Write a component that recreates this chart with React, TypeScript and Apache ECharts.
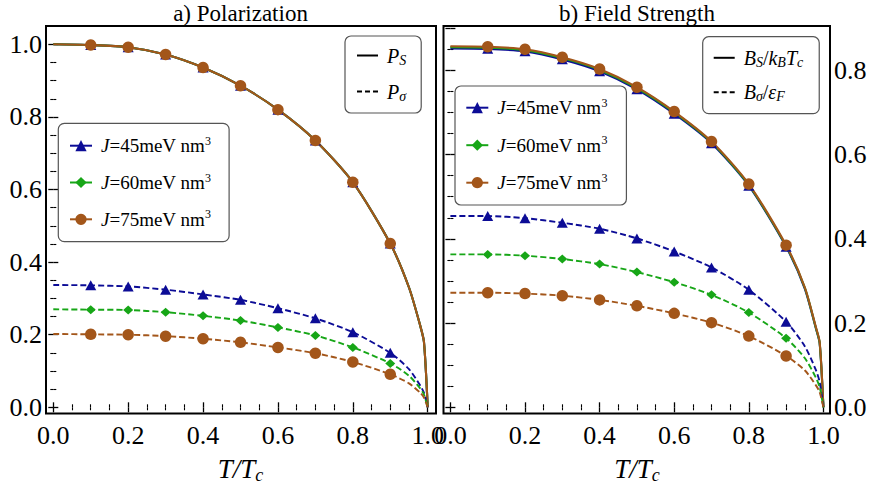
import React, { useEffect, useRef } from 'react';
import * as echarts from 'echarts';

// Reduced temperature T/Tc at which the curves were read
const T_GRID = [0, 0.1, 0.2, 0.3, 0.4, 0.5, 0.6, 0.7, 0.8, 0.9, 0.95, 0.98, 0.99, 1.0];
// Temperatures that carry a marker
const MARKER_T = [0.1, 0.2, 0.3, 0.4, 0.5, 0.6, 0.7, 0.8, 0.9];

// a) Polarization
const P_S_45 = [1.0, 0.998, 0.992, 0.972, 0.936, 0.886, 0.82, 0.735, 0.62, 0.451, 0.33, 0.225, 0.18, 0];
const P_S_60 = [1.0, 0.998, 0.992, 0.972, 0.936, 0.886, 0.82, 0.735, 0.62, 0.451, 0.33, 0.225, 0.18, 0];
const P_S_75 = [1.0, 0.998, 0.992, 0.972, 0.936, 0.886, 0.82, 0.735, 0.62, 0.451, 0.33, 0.225, 0.18, 0];
const P_SIG_45 = [0.337, 0.336, 0.333, 0.324, 0.311, 0.296, 0.273, 0.245, 0.207, 0.15, 0.105, 0.06, 0.04, 0];
const P_SIG_60 = [0.27, 0.269, 0.268, 0.262, 0.252, 0.239, 0.22, 0.198, 0.165, 0.121, 0.087, 0.052, 0.035, 0];
const P_SIG_75 = [0.202, 0.201, 0.2, 0.196, 0.189, 0.179, 0.165, 0.149, 0.125, 0.091, 0.066, 0.04, 0.027, 0];

// b) Field Strength
const B_S_45 = [0.852, 0.851, 0.845, 0.826, 0.798, 0.755, 0.697, 0.627, 0.526, 0.381, 0.282, 0.187, 0.152, 0];
const B_S_60 = [0.855, 0.854, 0.848, 0.829, 0.801, 0.758, 0.7, 0.629, 0.528, 0.383, 0.284, 0.188, 0.153, 0];
const B_S_75 = [0.857, 0.856, 0.85, 0.831, 0.803, 0.76, 0.702, 0.631, 0.53, 0.385, 0.285, 0.19, 0.155, 0];
const B_SIG_45 = [0.454, 0.454, 0.449, 0.438, 0.424, 0.401, 0.37, 0.332, 0.279, 0.203, 0.145, 0.088, 0.06, 0];
const B_SIG_60 = [0.363, 0.363, 0.36, 0.352, 0.34, 0.321, 0.297, 0.267, 0.225, 0.164, 0.117, 0.07, 0.048, 0];
const B_SIG_75 = [0.272, 0.272, 0.27, 0.265, 0.255, 0.241, 0.223, 0.201, 0.169, 0.122, 0.088, 0.052, 0.036, 0];

const PANEL_TITLES = ['a) Polarization', 'b) Field Strength'];
const J_NAMES = ['J45', 'J60', 'J75'];
const J_LABELS = ['45', '60', '75'];

const FONT = 'Liberation Serif';
const BLUE = '#0c0c96';
const GREEN = '#17a617';
const BROWN = '#a3561a';

const LEGEND_TEXT: Record<string, string> = {
  J45: `{i|J}{n|=${J_LABELS[0]}meV nm}{sup|3}`,
  J60: `{i|J}{n|=${J_LABELS[1]}meV nm}{sup|3}`,
  J75: `{i|J}{n|=${J_LABELS[2]}meV nm}{sup|3}`,
  PS: '{i|P}{sub|S}',
  Psig: '{i|P}{sub|σ}',
  BS: '{i|B}{sub|S}{n|/}{i|k}{sub|B}{i|T}{sub|c}',
  Bsig: '{i|B}{sub|σ}{n|/}{i|ε}{sub|F}',
};

function points(ys: number[]) {
  return T_GRID.map((t, i) =>
    MARKER_T.includes(t) ? [t, ys[i]] : { value: [t, ys[i]], symbol: 'none' }
  );
}

function curve(
  name: string,
  ys: number[],
  color: string,
  symbol: string,
  size: number | number[],
  dashed: boolean,
  grid: number
) {
  return {
    type: 'line',
    name,
    xAxisIndex: grid * 2,
    yAxisIndex: grid * 2,
    data: points(ys),
    smooth: 0.25,
    symbol,
    symbolSize: size,
    clip: false,
    lineStyle: { color, width: dashed ? 1.9 : 2.1, type: dashed ? [6, 3] : 'solid' },
    itemStyle: { color },
    emphasis: { disabled: true },
    silent: true,
  };
}

function dummy(name: string, dashed: boolean, grid: number) {
  return {
    type: 'line',
    name,
    xAxisIndex: grid * 2,
    yAxisIndex: grid * 2,
    data: [],
    symbol: 'circle',
    lineStyle: { color: '#000', width: 2, type: dashed ? [5, 3] : 'solid' },
    itemStyle: { color: 'rgba(0,0,0,0)' },
  };
}

const richText = (size: number) => ({
  i: { fontFamily: FONT, fontStyle: 'italic', fontSize: size, color: '#000', lineHeight: size + 3 },
  n: { fontFamily: FONT, fontSize: size, color: '#000', lineHeight: size + 3 },
  sup: { fontFamily: FONT, fontSize: Math.round(size * 0.62), color: '#000', verticalAlign: 'top', lineHeight: Math.round(size * 0.62) },
  sub: { fontFamily: FONT, fontStyle: 'italic', fontSize: Math.round(size * 0.68), color: '#000', verticalAlign: 'bottom', lineHeight: Math.round(size * 0.68) },
});

const tickRich = {
  t: { fontFamily: FONT, fontSize: 26, color: '#000' },
};

function xAxis(grid: number, position: string, offset: number, showLabel: boolean, name?: string) {
  return {
    type: 'value',
    gridIndex: grid,
    position,
    offset,
    min: 0,
    max: 1,
    interval: 0.2,
    axisLine: { show: false },
    axisTick: { show: true, inside: true, length: 5, lineStyle: { color: '#000', width: 1.3 } },
    minorTick: { show: true, splitNumber: 4, length: 3, lineStyle: { color: '#000', width: 1.1 } },
    splitLine: { show: false },
    minorSplitLine: { show: false },
    axisLabel: {
      show: showLabel,
      fontFamily: FONT,
      fontSize: 26,
      color: '#000',
      margin: 9,
      formatter: (v: number) => `{t|${v.toFixed(1)}}`,
      rich: tickRich,
    },
    name: name || '',
    nameLocation: 'middle',
    nameGap: 40,
    nameTextStyle: { fontFamily: FONT, fontSize: 27, color: '#000', rich: richText(27) },
  };
}

function yAxis(grid: number, position: string, offset: number, showLabel: boolean, max: number) {
  return {
    type: 'value',
    gridIndex: grid,
    position,
    offset,
    min: 0,
    max,
    interval: 0.2,
    axisLine: { show: false },
    axisTick: { show: true, inside: true, length: 5, lineStyle: { color: '#000', width: 1.3 } },
    minorTick: { show: true, splitNumber: 4, length: 3, lineStyle: { color: '#000', width: 1.1 } },
    splitLine: { show: false },
    minorSplitLine: { show: false },
    axisLabel: {
      show: showLabel,
      fontFamily: FONT,
      fontSize: 26,
      color: '#000',
      margin: 4,
      showMaxLabel: max === 1,
      formatter: (v: number) => `{t|${v.toFixed(1)}}`,
      rich: tickRich,
    },
  };
}

function legend(
  names: any[],
  left: number,
  top: number,
  itemWidth: number,
  itemGap: number,
  padding: number[],
  fontSize: number
) {
  return {
    show: true,
    orient: 'vertical',
    left,
    top,
    data: names,
    itemWidth,
    itemHeight: 14,
    itemGap,
    padding,
    selectedMode: false,
    backgroundColor: '#fff',
    borderColor: '#555',
    borderWidth: 1.2,
    borderRadius: 6,
    formatter: (name: string) => LEGEND_TEXT[name] || name,
    textStyle: {
      fontFamily: FONT,
      fontSize,
      color: '#000',
      lineHeight: fontSize + 3,
      padding: [0, 0, 0, 4],
      rich: richText(fontSize),
    },
    z: 20,
  };
}

export default function App() {
  const ref = useRef<HTMLDivElement>(null);
  useEffect(() => {
    if (!ref.current) return;
    const chart = echarts.init(ref.current, undefined, { renderer: 'svg' });
    const hideSym = { opacity: 0 };
    const option: any = {
      animation: false,
      backgroundColor: '#fff',
      textStyle: { fontFamily: FONT, color: '#000' },
      grid: [
        { left: 53.3, top: 44.3, width: 374.4, height: 363, outerBoundsMode: 'none', containLabel: false },
        { left: 450.4, top: 28.2, width: 373, height: 379.1, outerBoundsMode: 'none', containLabel: false },
      ],
      xAxis: [
        xAxis(0, 'bottom', 6.2, true, '{i|T/T}{sub|c}'),
        xAxis(0, 'top', 18.3, false),
        xAxis(1, 'bottom', 6.2, true, '{i|T/T}{sub|c}'),
        xAxis(1, 'top', 2.2, false),
      ],
      yAxis: [
        yAxis(0, 'left', 7.3, true, 1),
        yAxis(0, 'right', 8.3, false, 1),
        yAxis(1, 'left', 6.9, false, 0.9),
        yAxis(1, 'right', 6.6, true, 0.9),
      ],
      legend: [
        legend(
          [{ name: 'PS', itemStyle: hideSym }, { name: 'Psig', itemStyle: hideSym }],
          345, 36, 21, 13, [8, 15, 10, 11], 20
        ),
        legend(J_NAMES, 58.3, 123.3, 22, 14.8, [11.4, 18, 11.4, 10.7], 19),
        legend(
          [{ name: 'BS', itemStyle: hideSym }, { name: 'Bsig', itemStyle: hideSym }],
          702.7, 36.7, 21, 11.4, [9.6, 16, 10, 10], 20
        ),
        legend(J_NAMES, 455, 86, 22, 15.5, [10.7, 19, 11.3, 10.3], 19),
      ],
      series: [
        curve('J45', P_S_45, BLUE, 'triangle', [11, 10], false, 0),
        curve('J60', P_S_60, GREEN, 'diamond', [10, 9], false, 0),
        curve('J75', P_S_75, BROWN, 'circle', 11.5, false, 0),
        curve('J45d', P_SIG_45, BLUE, 'triangle', [11, 10], true, 0),
        curve('J60d', P_SIG_60, GREEN, 'diamond', [10, 9], true, 0),
        curve('J75d', P_SIG_75, BROWN, 'circle', 11.5, true, 0),
        curve('J45', B_S_45, BLUE, 'triangle', [11, 10], false, 1),
        curve('J60', B_S_60, GREEN, 'diamond', [10, 9], false, 1),
        curve('J75', B_S_75, BROWN, 'circle', 11.5, false, 1),
        curve('J45d', B_SIG_45, BLUE, 'triangle', [11, 10], true, 1),
        curve('J60d', B_SIG_60, GREEN, 'diamond', [10, 9], true, 1),
        curve('J75d', B_SIG_75, BROWN, 'circle', 11.5, true, 1),
        dummy('PS', false, 0),
        dummy('Psig', true, 0),
        dummy('BS', false, 1),
        dummy('Bsig', true, 1),
      ],
      graphic: [
        {
          type: 'rect',
          z: 50,
          silent: true,
          shape: { x: 46, y: 26, width: 390, height: 387.5 },
          style: { fill: 'none', stroke: '#000', lineWidth: 2 },
        },
        {
          type: 'rect',
          z: 50,
          silent: true,
          shape: { x: 443.5, y: 26, width: 386.5, height: 387.5 },
          style: { fill: 'none', stroke: '#000', lineWidth: 2 },
        },
        {
          type: 'text',
          x: 240.5,
          y: 13,
          style: {
            text: PANEL_TITLES[0],
            fontFamily: FONT,
            fontSize: 23,
            fill: '#000',
            align: 'center',
            verticalAlign: 'middle',
          },
        },
        {
          type: 'text',
          x: 637,
          y: 13,
          style: {
            text: PANEL_TITLES[1],
            fontFamily: FONT,
            fontSize: 23,
            fill: '#000',
            align: 'center',
            verticalAlign: 'middle',
          },
        },
      ],
    };
    chart.setOption(option);
    return () => chart.dispose();
  }, []);
  return (
    <div
      ref={ref}
      style={{ position: 'fixed', left: 0, top: 0, width: 871, height: 489, background: '#fff' }}
    />
  );
}
